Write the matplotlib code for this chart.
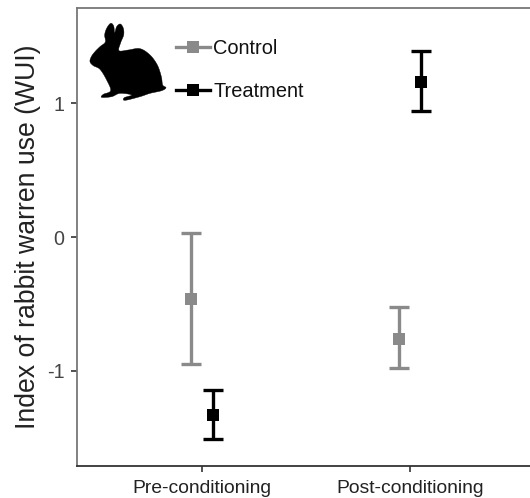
import matplotlib
matplotlib.use("Agg")
import matplotlib.pyplot as plt
from matplotlib.lines import Line2D
from matplotlib.patches import PathPatch
from matplotlib.path import Path
from matplotlib.transforms import Affine2D
import numpy as np

plt.rcParams['font.family'] = ['Liberation Sans', 'DejaVu Sans']

categories = ["Pre-conditioning", "Post-conditioning"]
control_mean = [-0.46, -0.76]
control_low = [-0.95, -0.98]
control_high = [0.03, -0.52]
treatment_mean = [-1.33, 1.16]
treatment_low = [-1.51, 0.94]
treatment_high = [-1.14, 1.39]
y_ticks = [-1, 0, 1]
dodge = 0.052
GREY = "#8a8a8a"
BLACK = "#000000"
W, H = 530, 498

fig = plt.figure(figsize=(W / 100, H / 100), dpi=100)
ax = fig.add_axes([77 / W, 1 - 466 / H, (W - 77) / W, (466 - 8) / H])
x = np.arange(1, len(categories) + 1)


def draw(xs, mean, low, high, color, lw, capw):
    mean, low, high = map(np.array, (mean, low, high))
    ax.errorbar(xs, mean, yerr=[mean - low, high - mean], fmt="none", ecolor=color,
                elinewidth=lw, capsize=capw, capthick=lw, zorder=3)
    ax.plot(xs, mean, "s", color=color, ms=8.7, mew=0, zorder=4)


draw(x - dodge, control_mean, control_low, control_high, GREY, 2.4, 7.5)
draw(x + dodge, treatment_mean, treatment_low, treatment_high, BLACK, 2.4, 7.5)

ax.set_xlim(0.399, 2.577)
ax.set_ylim(-1.709, 1.709)
ax.set_xticks(x, categories)
ax.set_yticks(y_ticks, ["-1", "0", "1"])
ax.tick_params(axis="x", labelsize=13.9, length=4, width=1.2, color="#333333",
               labelcolor="#222222", pad=6)
ax.tick_params(axis="y", labelsize=14.2, length=4, width=1.2, color="#333333",
               labelcolor="#444444", pad=5)
ax.set_ylabel("Index of rabbit warren use (WUI)", fontsize=19.2, color="#222222", labelpad=4)

ax.spines["right"].set_visible(False)
ax.spines["top"].set_color("#777777")
ax.spines["left"].set_color("#777777")
ax.spines["bottom"].set_color("#333333")
for s in ax.spines.values():
    s.set_linewidth(1.3)

handles = [
    Line2D([], [], color=GREY, lw=2.4, marker="s", ms=8.5, mew=0),
    Line2D([], [], color=BLACK, lw=2.4, marker="s", ms=8.5, mew=0),
]
ax.legend(handles, ["Control", "Treatment"], loc="upper left",
          bbox_to_anchor=((176 - 77) / (W - 77), 1 - (39 - 8) / (466 - 8)), borderaxespad=0,
          borderpad=0, frameon=False, fontsize=14.4, labelspacing=1.18, handlelength=1.7,
          handletextpad=0.15, labelcolor="#111111")

# decorative rabbit silhouette, outline given as zoomed reference pixels
outline = np.array([
    (60, 185), (64, 170), (75, 155), (90, 140), (106, 126), (104, 105), (110, 85), (122, 70),
    (131, 78), (134, 98), (140, 80), (151, 72), (160, 85), (161, 105), (152, 128),
    (147, 152), (175, 150), (210, 146), (240, 165), (262, 195), (274, 230), (278, 255),
    (288, 263), (275, 272), (240, 280), (210, 290), (165, 301), (163, 293), (185, 285),
    (150, 280), (125, 290), (95, 292), (100, 283), (122, 272), (110, 240), (90, 208),
    (70, 197)], dtype=float)
n = len(outline)
smooth = []
for i in range(n):
    p0, p1, p2, p3 = outline[i - 1], outline[i], outline[(i + 1) % n], outline[(i + 2) % n]
    for t in np.linspace(0, 1, 8, endpoint=False):
        smooth.append(0.5 * (2 * p1 + (p2 - p0) * t + (2 * p0 - 5 * p1 + 4 * p2 - p3) * t ** 2
                             + (3 * p1 - p0 - 3 * p2 + p3) * t ** 3))
smooth.append(smooth[0])
smooth = np.array(smooth)
px = np.column_stack([70 + smooth[:, 0] / 3, H - smooth[:, 1] / 3])
fig.add_artist(PathPatch(Path(px), facecolor="black", edgecolor="black", lw=0.3,
                         transform=Affine2D().scale(1), joinstyle="round"))

fig.savefig("out.png", dpi=100)
